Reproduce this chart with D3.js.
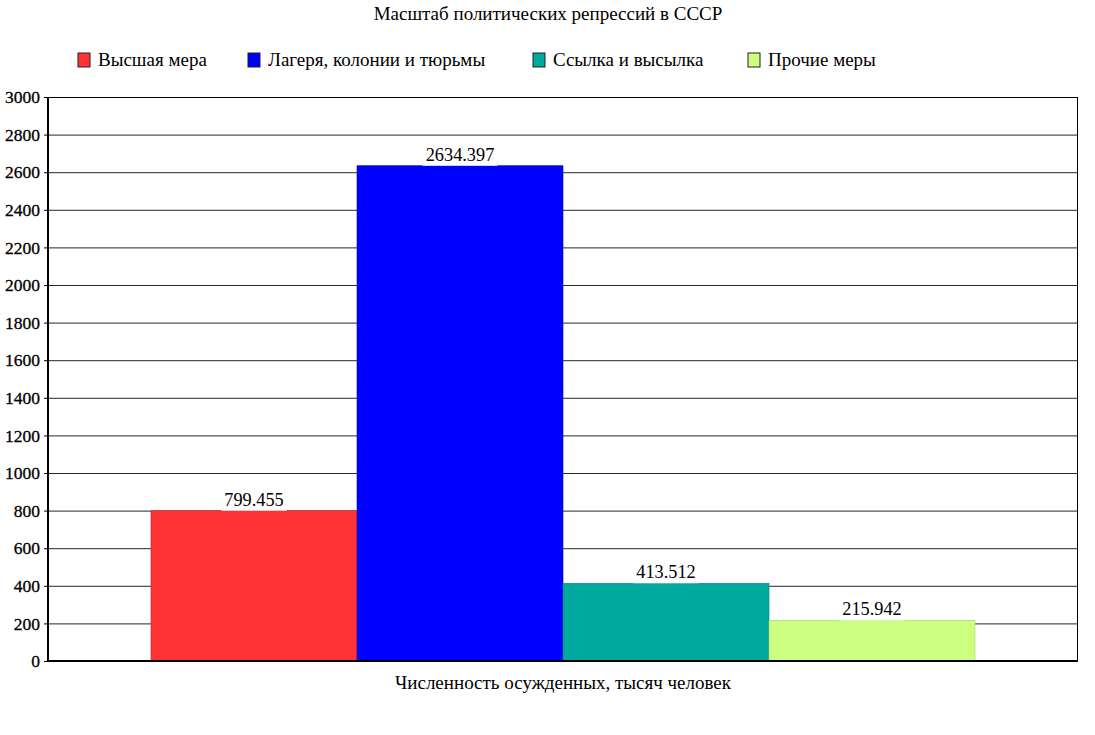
<!DOCTYPE html>
<html><head><meta charset="utf-8">
<script src="https://cdn.jsdelivr.net/npm/d3@7"></script>
<style>body{margin:0;background:#fff}svg{display:block}svg text{font-family:"Liberation Serif","Times New Roman",serif !important;fill:#000}</style>
</head><body>
<svg id="c" width="1095" height="735"></svg>
<script>
const title = "Масштаб политических репрессий в СССР";
const xLabel = "Численность осужденных, тысяч человек";
const series = ["Высшая мера", "Лагеря, колонии и тюрьмы", "Ссылка и высылка", "Прочие меры"];
const values = [799.455, 2634.397, 413.512, 215.942];
const colors = ["#ff3333", "#0000ff", "#00a99d", "#ccff80"];
const strokes = ["#b22", "#0000aa", "#00887e", "#a8cc70"];
const yTicks = [0, 200, 400, 600, 800, 1000, 1200, 1400, 1600, 1800, 2000, 2200, 2400, 2600, 2800, 3000];
const legendX = [78, 248, 533, 748];

const svg = d3.select("#c");
const L = 48, R = 1078, T = 97, B = 661;
const y = d3.scaleLinear().domain([0, 3000]).range([B, T]);
const x = d3.scaleBand().domain(series).range([L + 103, R - 103]).padding(0);

svg.append("text").attr("x", 548).attr("y", 20).attr("text-anchor", "middle")
  .attr("font-size", 19).text(title);

const lg = svg.append("g");
series.forEach((s, i) => {
  lg.append("rect").attr("x", legendX[i]).attr("y", 53).attr("width", 12).attr("height", 14)
    .attr("fill", colors[i]).attr("stroke", "#222").attr("stroke-width", 1);
  lg.append("text").attr("x", legendX[i] + 20).attr("y", 66).attr("font-size", 19).text(s);
});

// grid
const yAxis = d3.axisLeft(y).tickValues(yTicks).tickSize(-(R - L)).tickPadding(8).tickFormat(d3.format("d"));
const ga = svg.append("g").attr("transform", `translate(${L},0)`).call(yAxis);
ga.attr("font-family", null);
ga.select(".domain").remove();
ga.selectAll(".tick line").attr("stroke", "#1c2b36").attr("stroke-width", 1);
ga.selectAll(".tick text").attr("font-size", 17.5).attr("fill", "#000").attr("x", -8)
  .attr("stroke", "#000").attr("stroke-width", 0.3);
ga.selectAll(".tick").append("line").attr("x1", -4).attr("x2", 0).attr("stroke", "#000");

// frame
svg.append("line").attr("x1", L).attr("x2", R).attr("y1", T + 0.5).attr("y2", T + 0.5).attr("stroke", "#000");
svg.append("line").attr("x1", R - 0.5).attr("x2", R - 0.5).attr("y1", T).attr("y2", B).attr("stroke", "#000");

// bars
svg.append("g").selectAll("rect").data(values).join("rect")
  .attr("x", (d, i) => x(series[i]))
  .attr("y", d => y(d))
  .attr("width", x.bandwidth())
  .attr("height", d => B - y(d))
  .attr("fill", (d, i) => colors[i])
  .attr("stroke", (d, i) => strokes[i]).attr("stroke-width", 0.6);

// axes lines thick
svg.append("line").attr("x1", L).attr("x2", L).attr("y1", T).attr("y2", B + 1).attr("stroke", "#000").attr("stroke-width", 2);
svg.append("line").attr("x1", L).attr("x2", R).attr("y1", B).attr("y2", B).attr("stroke", "#000").attr("stroke-width", 2);

// labels
const lab = svg.append("g");
values.forEach((v, i) => {
  const cx = x(series[i]) + x.bandwidth() / 2;
  const t = lab.append("text").attr("x", cx).attr("y", y(v) - 5).attr("text-anchor", "middle")
    .attr("font-size", 18.3).text(v.toFixed(3));
  const bb = t.node().getBBox();
  lab.insert("rect", "text").attr("x", bb.x - 3).attr("y", bb.y).attr("width", bb.width + 6).attr("height", bb.height + 1)
    .attr("fill", "#fff");
});

svg.append("text").attr("x", 563).attr("y", 689).attr("text-anchor", "middle")
  .attr("font-size", 19).text(xLabel);
</script>
</body></html>
